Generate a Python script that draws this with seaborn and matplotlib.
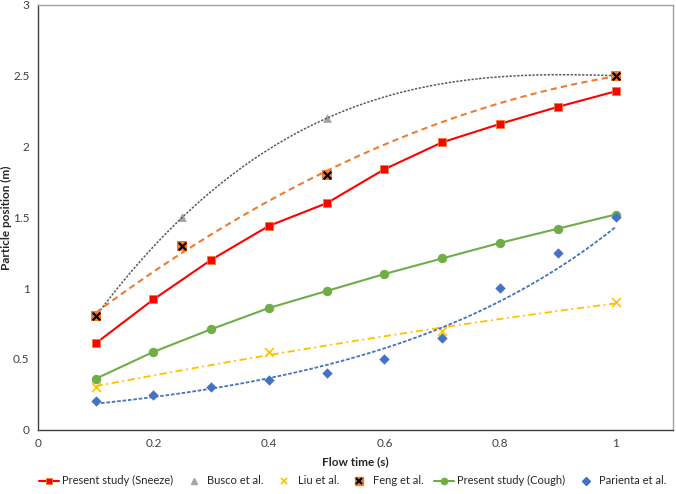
import numpy as np
import pandas as pd
import matplotlib
matplotlib.use("Agg")
import matplotlib.pyplot as plt
from matplotlib.lines import Line2D
from matplotlib.legend_handler import HandlerTuple
from matplotlib.ticker import FuncFormatter
import seaborn as sns

# Present study data
t_present = [0.1, 0.2, 0.3, 0.4, 0.5, 0.6, 0.7, 0.8, 0.9, 1.0]
sneeze = [0.61, 0.92, 1.20, 1.44, 1.60, 1.84, 2.03, 2.16, 2.28, 2.39]
cough = [0.36, 0.55, 0.71, 0.86, 0.98, 1.10, 1.21, 1.32, 1.42, 1.52]

# Literature data
t_busco = [0.1, 0.25, 0.5, 1.0]
busco = [0.8, 1.5, 2.2, 2.5]
t_liu = [0.1, 0.4, 0.7, 1.0]
liu = [0.30, 0.55, 0.70, 0.90]
t_feng = [0.1, 0.25, 0.5, 1.0]
feng = [0.8, 1.3, 1.8, 2.5]
t_parienta = [0.1, 0.2, 0.3, 0.4, 0.5, 0.6, 0.7, 0.8, 0.9, 1.0]
parienta = [0.20, 0.245, 0.30, 0.355, 0.40, 0.50, 0.65, 1.00, 1.25, 1.50]

sns.set_style("white")
plt.rcParams['font.family'] = ['Lato', 'DejaVu Sans']

fig = plt.figure(figsize=(6.76, 4.94), dpi=100)
ax = fig.add_axes([0.056, 0.13, 0.94, 0.86])

red = "#FF0000"
gray = "#A5A5A5"
yellow = "#FFC000"
orange = "#ED7D31"
green = "#70AD47"
blue = "#4472C4"

# trendlines (polynomial fits, like the spreadsheet trendlines)
sns.regplot(x=t_busco, y=busco, order=3, ci=None, scatter=False, truncate=True, ax=ax,
            line_kws=dict(color="#595959", lw=1.1, dashes=(1.5, 1)))
sns.regplot(x=t_feng, y=feng, order=2, ci=None, scatter=False, truncate=True, ax=ax,
            line_kws=dict(color=orange, lw=1.5, dashes=(3, 2)))
sns.regplot(x=t_liu, y=liu, order=2, ci=None, scatter=False, truncate=True, ax=ax,
            line_kws=dict(color=yellow, lw=1.3, dashes=(4, 2, 1, 2)))

# exponential trendline for Parienta et al.
b, ln_a = np.polyfit(t_parienta, np.log(parienta), 1)
tt = np.linspace(min(t_parienta), max(t_parienta), 100)
sns.lineplot(x=tt, y=np.exp(ln_a + b * tt), ax=ax, color=blue, lw=1.3, dashes=(2, 1))

# present study lines
sns.lineplot(x=t_present, y=sneeze, ax=ax, color=red, lw=1.5, marker="s", markersize=6,
             markeredgecolor=orange, markeredgewidth=0.6)
sns.lineplot(x=t_present, y=cough, ax=ax, color=green, lw=1.5, marker="o", markersize=6,
             markeredgecolor=green)

# literature points
sns.scatterplot(x=t_busco, y=busco, ax=ax, color=gray, marker="^", s=40, linewidth=0)
sns.scatterplot(x=t_liu, y=liu, ax=ax, color=yellow, marker="x", s=40, linewidth=1.2)
sns.scatterplot(x=t_feng, y=feng, ax=ax, color=orange, marker="s", s=55, linewidth=0, zorder=5)
sns.scatterplot(x=t_feng, y=feng, ax=ax, color="black", marker="x", s=30, linewidth=1.6, zorder=6)
sns.scatterplot(x=t_parienta, y=parienta, ax=ax, color=blue, marker="D", s=28, linewidth=0, zorder=5)

ax.set_xlim(0, 1.1)
ax.set_ylim(0, 3)
ax.set_xticks([0, 0.2, 0.4, 0.6, 0.8, 1.0])
ax.set_yticks([0, 0.5, 1, 1.5, 2, 2.5, 3])
fmt = FuncFormatter(lambda v, p: "{:g}".format(round(v, 2)))
ax.xaxis.set_major_formatter(fmt)
ax.yaxis.set_major_formatter(fmt)
ax.tick_params(length=0, labelsize=8.5, colors="#404040", pad=6)
ax.set_xlabel("Flow time (s)", fontsize=8.5, fontweight="bold", labelpad=5)
ax.set_ylabel("Particle position (m)", fontsize=8.5, fontweight="bold", labelpad=1)

for side in ["left", "bottom"]:
    ax.spines[side].set_color("#404040")
    ax.spines[side].set_linewidth(1.0)
for side in ["top", "right"]:
    ax.spines[side].set_color("#A0A0A0")
    ax.spines[side].set_linewidth(1.0)

# legend
h_sneeze = Line2D([], [], color=red, lw=1.5, marker="s", markersize=5,
                  markeredgecolor=orange, markeredgewidth=0.6)
h_busco = Line2D([], [], color=gray, ls="", marker="^", markersize=5)
h_liu = Line2D([], [], color=yellow, ls="", marker="x", markersize=5, markeredgewidth=1.2)
h_feng_sq = Line2D([], [], color=orange, ls="", marker="s", markersize=6)
h_feng_x = Line2D([], [], color="black", ls="", marker="x", markersize=4.5, markeredgewidth=1.5)
h_cough = Line2D([], [], color=green, lw=1.5, marker="o", markersize=4.5)
h_par = Line2D([], [], color=blue, ls="", marker="D", markersize=4.5)
labels = ["Present study (Sneeze)", "Busco et al.", "Liu et al.", "Feng et al.",
          "Present study (Cough)", "Parienta et al."]
fig.legend([h_sneeze, h_busco, h_liu, (h_feng_sq, h_feng_x), h_cough, h_par], labels,
           handler_map={tuple: HandlerTuple(ndivide=1)},
           loc="lower center", bbox_to_anchor=(0.522, -0.005), ncol=6, frameon=False,
           fontsize=8, handlelength=1.8, columnspacing=0.95, handletextpad=0.3)

fig.savefig("out.png", dpi=100)
